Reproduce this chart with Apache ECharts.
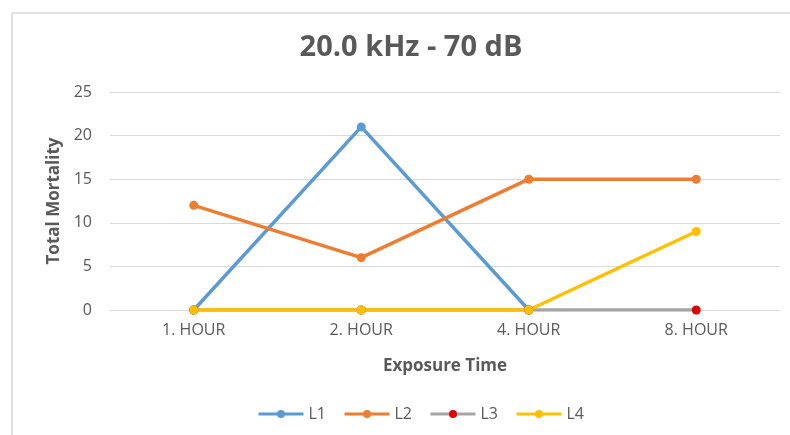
<!DOCTYPE html>
<html>
<head>
<meta charset="utf-8">
<script src="https://cdn.jsdelivr.net/npm/echarts@6/dist/echarts.min.js"></script>
<style>html,body{margin:0;padding:0;background:#fff;}#c{width:790px;height:435px;}</style>
</head>
<body>
<div id="c"></div>
<script>
var categories = ['1. HOUR', '2. HOUR', '4. HOUR', '8. HOUR'];
var L1 = [0, 21, 0, null];
var L2 = [12, 6, 15, 15];
var L3 = [0, 0, 0, 0];
var L4 = [0, 0, 0, 9];
var yTicks = [0, 5, 10, 15, 20, 25];

var font = 'Open Sans';
var chart = echarts.init(document.getElementById('c'));
function line(name, data, color, markerColor) {
  return {
    name: name, type: 'line', data: data,
    symbol: 'circle', symbolSize: 9,
    lineStyle: { color: color, width: 3.5 },
    itemStyle: { color: markerColor || color },
    connectNulls: false
  };
}
chart.setOption({
  animation: false,
  textStyle: { fontFamily: font },
  graphic: [{
    type: 'rect', shape: { x: 12, y: 13, width: 800, height: 440 },
    style: { fill: 'none', stroke: '#d9d9d9', lineWidth: 1.5 }
  }],
  title: {
    text: '20.0 kHz - 70 dB', left: 406, top: 28, textAlign: 'center',
    textStyle: { fontFamily: font, fontSize: 29, fontWeight: 'bold', color: '#595959' }
  },
  legend: {
    bottom: 8, left: 252, itemWidth: 45, itemHeight: 10, itemGap: 17,
    textStyle: { fontFamily: font, fontSize: 16, color: '#595959' },
    lineStyle: { width: 3 },
    data: ['L1', 'L2', 'L3', 'L4']
  },
  grid: { left: 110, right: 10, top: 92, bottom: 125 },
  xAxis: {
    type: 'category', data: categories, boundaryGap: true,
    name: 'Exposure Time', nameLocation: 'middle', nameGap: 48,
    nameTextStyle: { fontFamily: font, fontSize: 17, fontWeight: 'bold', color: '#595959' },
    axisLine: { lineStyle: { color: '#d9d9d9', width: 1 } },
    axisTick: { show: false },
    axisLabel: { fontFamily: font, fontSize: 16, color: '#595959', margin: 12 }
  },
  yAxis: {
    type: 'value', min: 0, max: 25, interval: 5,
    name: 'Total Mortality', nameLocation: 'middle', nameGap: 43,
    nameTextStyle: { fontFamily: font, fontSize: 17, fontWeight: 'bold', color: '#595959' },
    axisLine: { show: false }, axisTick: { show: false },
    splitLine: { lineStyle: { color: '#d9d9d9', width: 1 } },
    axisLabel: { fontFamily: font, fontSize: 16, color: '#595959', margin: 18,
      formatter: function (v) { return yTicks.indexOf(v) >= 0 ? String(v) : ''; } }
  },
  series: [
    line('L1', L1, '#5b9bd5'),
    line('L2', L2, '#ed7d31'),
    line('L3', L3, '#a5a5a5', '#e00000'),
    line('L4', L4, '#ffc000')
  ]
});
</script>
</body>
</html>
